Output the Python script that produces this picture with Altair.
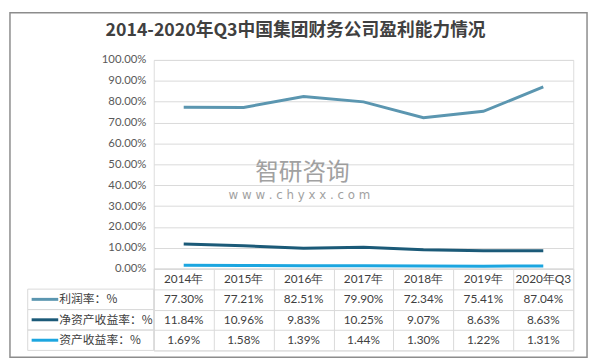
import altair as alt
import pandas as pd

categories = ["2014年", "2015年", "2016年", "2017年", "2018年", "2019年", "2020年Q3"]
series_names = ["利润率：%", "净资产收益率：%", "资产收益率：%"]
profit_margin = [77.30, 77.21, 82.51, 79.90, 72.34, 75.41, 87.04]
roe = [11.84, 10.96, 9.83, 10.25, 9.07, 8.63, 8.63]
roa = [1.69, 1.58, 1.39, 1.44, 1.30, 1.22, 1.31]
series_colors = ["#5B96B0", "#1B5A78", "#1CA6E0"]
title_text = "2014-2020年Q3中国集团财务公司盈利能力情况"

rows = []
for name, vals in zip(series_names, [profit_margin, roe, roa]):
    for c, v in zip(categories, vals):
        rows.append({"series": name, "cat": c, "value": v / 100, "label": f"{v:.2f}%"})
df = pd.DataFrame(rows)

header_row = "__header__"
row_domain = [header_row] + series_names
hdr = pd.DataFrame({"series": header_row, "cat": categories, "label": categories})
table_df = pd.concat([df[["series", "cat", "label"]], hdr], ignore_index=True)
labels_df = pd.DataFrame({"series": series_names})
one = pd.DataFrame({"a": [0]})

FONT = "Lato"
TXT = "#404040"
GRID = "#d9d9d9"
W, H = 426, 212

color_scale = alt.Scale(domain=series_names, range=series_colors)

lines = alt.Chart(df).mark_line(strokeWidth=3).encode(
    x=alt.X("cat:N", sort=categories, axis=None,
            scale=alt.Scale(type="point", padding=0.5)),
    y=alt.Y("value:Q", scale=alt.Scale(domain=[0, 1]),
            axis=alt.Axis(format=".2%", values=[i / 10 for i in range(11)], title=None,
                          domain=False, ticks=False, labelPadding=8,
                          labelFont=FONT, labelFontSize=11.5, labelColor="#595959",
                          gridColor=GRID, gridWidth=1)),
    color=alt.Color("series:N", scale=color_scale, legend=None),
    detail="series:N",
)

border = alt.Chart(one).mark_rect(fillOpacity=0, stroke="#8c8c8c", strokeWidth=1.5).encode(
    x=alt.value(-146), x2=alt.value(440), y=alt.value(-48), y2=alt.value(302)
)

title = alt.Chart(one).mark_text(
    text=title_text, font="Noto Sans CJK SC", fontWeight="bold", fontSize=18,
    color=TXT, baseline="middle", align="center"
).encode(x=alt.value(144), y=alt.value(-29))

wm1 = alt.Chart(one).mark_text(
    text="智研咨询", font="Noto Sans CJK SC", fontSize=24, color="#8a8a8a",
    opacity=0.8, baseline="middle", align="left"
).encode(x=alt.value(103), y=alt.value(115))
wm2 = alt.Chart(one).mark_text(
    text="w w w . c h y x x . c o m", font="DejaVu Sans", fontSize=12, color="#8a8a8a",
    opacity=0.8, baseline="middle", align="left"
).encode(x=alt.value(76), y=alt.value(137))

top = alt.layer(border, lines, title, wm1, wm2).properties(width=W, height=H)

xb = alt.X("cat:N", sort=categories, title=None,
           scale=alt.Scale(type="band", paddingInner=0, paddingOuter=0),
           axis=alt.Axis(labels=False, ticks=False, domain=False, grid=True,
                         tickBand="extent", gridColor=GRID, title=None))
yb = alt.Y("series:N", sort=row_domain, title=None,
           scale=alt.Scale(domain=row_domain, paddingInner=0, paddingOuter=0),
           axis=alt.Axis(labels=False, ticks=False, domain=False, grid=True,
                         tickBand="extent", gridColor=GRID, title=None))

cells = alt.Chart(table_df).mark_text(font=FONT, fontSize=12, color=TXT).encode(
    x=xb, y=yb, text="label:N"
)

label_box = alt.Chart(labels_df).mark_rect(fillOpacity=0, stroke=GRID, strokeWidth=1).encode(
    x=alt.value(-128), x2=alt.value(0),
    y=alt.Y("series:N", sort=row_domain, scale=alt.Scale(domain=row_domain, paddingInner=0, paddingOuter=0))
)
swatch = alt.Chart(labels_df).mark_rule(strokeWidth=3).encode(
    x=alt.value(-124), x2=alt.value(-97),
    y=alt.Y("series:N", sort=row_domain, bandPosition=0.5,
            scale=alt.Scale(domain=row_domain, paddingInner=0, paddingOuter=0)),
    color=alt.Color("series:N", scale=color_scale, legend=None),
)
row_text = alt.Chart(labels_df).mark_text(
    font="Noto Sans CJK SC", fontSize=12, color=TXT, align="left", baseline="middle"
).encode(
    x=alt.value(-96),
    y=alt.Y("series:N", sort=row_domain, bandPosition=0.5,
            scale=alt.Scale(domain=row_domain, paddingInner=0, paddingOuter=0)),
    text="series:N",
)

bottom = alt.layer(cells, label_box, swatch, row_text).properties(width=W, height=83)

chart = alt.vconcat(top, bottom, spacing=0, bounds="flush").resolve_scale(
    x="independent", y="independent"
).properties(padding=0).configure_view(stroke="transparent").configure(background="white")

chart.save("out.html", embed_options={"renderer": "svg", "actions": False})
